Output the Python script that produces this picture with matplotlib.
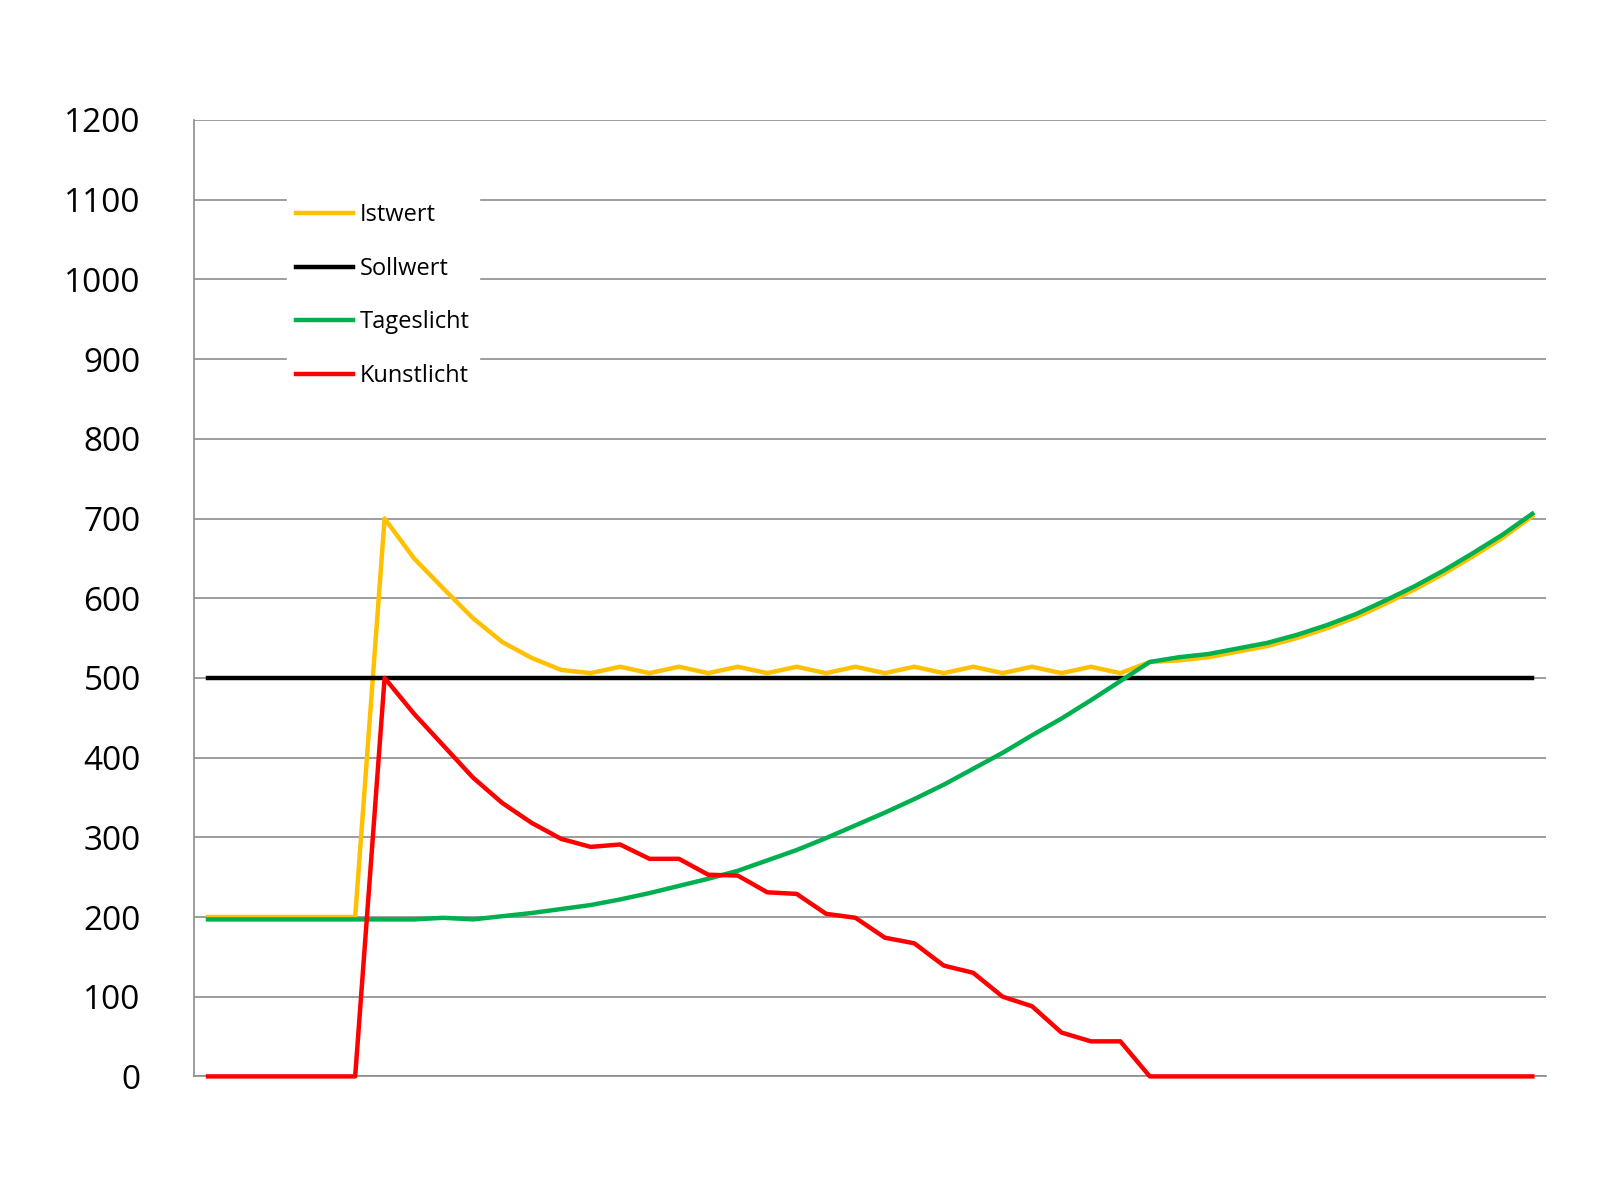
import matplotlib.pyplot as plt

# Werte je Zeitschritt (46 Schritte)
istwert = [200, 200, 200, 200, 200, 200, 700, 650, 612, 575, 545, 525, 510, 506,
           514, 506, 514, 506, 514, 506, 514, 506, 514, 506, 514, 506, 514, 506,
           514, 506, 514, 506, 520, 522, 526, 533, 540, 550, 562, 576, 593, 611,
           631, 653, 676, 703]
sollwert = [500] * 46
tageslicht = [197, 197, 197, 197, 197, 197, 197, 197, 199, 197, 201, 205, 210, 215,
              222, 230, 239, 248, 258, 271, 284, 299, 315, 331, 348, 366, 386, 406,
              428, 449, 472, 496, 520, 526, 530, 537, 544, 554, 566, 580, 597, 615,
              635, 657, 680, 706]
kunstlicht = [0, 0, 0, 0, 0, 0, 500, 455, 415, 375, 343, 318, 298, 288, 291, 273,
              273, 253, 252, 231, 229, 204, 199, 174, 167, 139, 130, 100, 88, 55,
              44, 44] + [0] * 14
y_ticks = list(range(0, 1201, 100))

plt.rcParams['font.family'] = ['Open Sans', 'DejaVu Sans']

fig = plt.figure(figsize=(16, 12), dpi=100)
ax = fig.add_axes([0.121, 0.103, 0.845, 0.797])
x = range(len(istwert))

ax.plot(x, istwert, color='#FFC000', lw=3.2, label='Istwert', zorder=3)
ax.plot(x, sollwert, color='black', lw=3.2, label='Sollwert', zorder=3)
ax.plot(x, tageslicht, color='#00B050', lw=3.2, label='Tageslicht', zorder=3)
ax.plot(x, kunstlicht, color='#FF0000', lw=3.2, label='Kunstlicht', zorder=4,
        clip_on=False)

ax.set_xlim(-0.49, 45.45)
ax.set_ylim(0, 1200)
ax.set_yticks(y_ticks)
ax.tick_params(axis='y', labelsize=24, length=0, pad=38)
ax.set_xticks([])
ax.grid(axis='y', color='#8c8c8c', lw=1.2)
ax.set_axisbelow(True)
for s in ['top', 'right']:
    ax.spines[s].set_visible(False)
for s in ['left', 'bottom']:
    ax.spines[s].set_color('#8c8c8c')
    ax.spines[s].set_linewidth(1.2)
    ax.spines[s].set_zorder(1)

leg = ax.legend(loc='upper left', bbox_to_anchor=(0.06, 0.935), fontsize=17,
                frameon=True, fancybox=False, edgecolor='white', framealpha=1,
                handlelength=2.4, handletextpad=0.3, labelspacing=1.25,
                borderpad=0.4)
leg.set_zorder(5)

fig.savefig('out.png')
